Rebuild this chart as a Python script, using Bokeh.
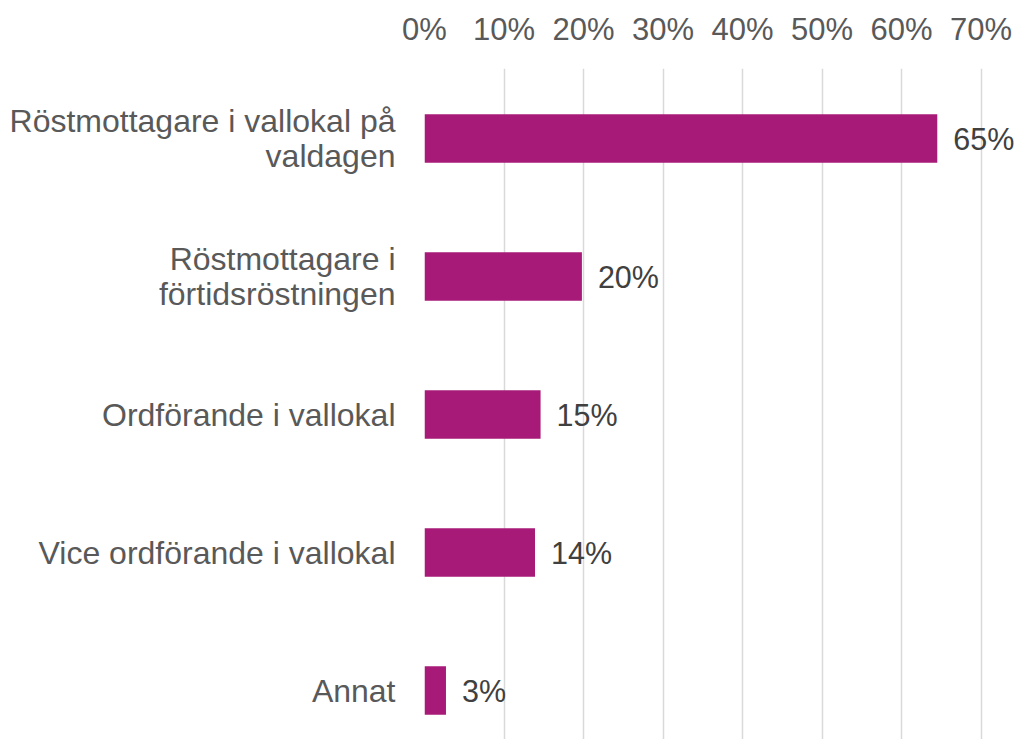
from bokeh.plotting import figure
from bokeh.models import Range1d, FixedTicker, ColumnDataSource
from bokeh.core.properties import value
from bokeh.embed import file_html
from bokeh.resources import INLINE

categories = [
    "Röstmottagare i vallokal på\nvaldagen",
    "Röstmottagare i\nförtidsröstningen",
    "Ordförande i vallokal",
    "Vice ordförande i vallokal",
    "Annat",
]
values = [64.5, 19.8, 14.6, 13.9, 2.7]
value_labels = ["65%", "20%", "15%", "14%", "3%"]
tick_values = [0, 10, 20, 30, 40, 50, 60, 70]
tick_labels = ["0%", "10%", "20%", "30%", "40%", "50%", "60%", "70%"]

FONT = "Liberation Sans"
BAR = "#A71A77"

positions = list(range(len(categories) - 1, -1, -1))

src = ColumnDataSource(dict(y=positions, v=values, lab=value_labels))

W, H = 1014, 739
LEFT = 424
TOP = 68
px_per = 7.95
x_end = (W - LEFT) / px_per
row_px = 138.0
y_top = 4 + (138 - TOP) / row_px
y_bot = -(H - 690) / row_px

p = figure(width=W, height=H, output_backend="svg", toolbar_location=None,
           x_range=Range1d(0, x_end), y_range=Range1d(y_bot, y_top),
           x_axis_location="above",
           min_border_left=LEFT, min_border_top=TOP, min_border_right=0,
           min_border_bottom=0)
p.outline_line_color = None
p.background_fill_color = "white"
p.border_fill_color = "white"

p.hbar(y="y", right="v", left=0, height=0.353, source=src,
       fill_color=BAR, line_color=None)
p.text(x="v", y="y", text="lab", source=src, x_offset=16,
       text_baseline="middle", text_align="left",
       text_font=value(FONT), text_font_size="30.5px", text_color="#404040")

xa = p.xaxis[0]
xa.ticker = FixedTicker(ticks=tick_values)
xa.major_label_overrides = {t: l for t, l in zip(tick_values, tick_labels)}
xa.axis_line_color = None
xa.major_tick_line_color = None
xa.minor_tick_line_color = None
xa.major_tick_out = 0
xa.major_label_standoff = 22
xa.major_label_text_font = FONT
xa.major_label_text_font_size = "31px"
xa.major_label_text_color = "#595959"

ya = p.yaxis[0]
ya.ticker = FixedTicker(ticks=positions)
ya.major_label_overrides = {pos: c for pos, c in zip(positions, categories)}
ya.axis_line_color = None
ya.major_tick_line_color = None
ya.minor_tick_line_color = None
ya.major_tick_out = 0
ya.major_label_standoff = 29
ya.major_label_text_font = FONT
ya.major_label_text_font_size = "32px"
ya.major_label_text_line_height = 0.95
ya.major_label_text_color = "#595959"

p.xgrid.ticker = FixedTicker(ticks=tick_values)
p.xgrid.grid_line_color = "#d9d9d9"
p.xgrid.grid_line_width = 1.5
p.ygrid.grid_line_color = None

open("out.html", "w").write(file_html(p, INLINE))
